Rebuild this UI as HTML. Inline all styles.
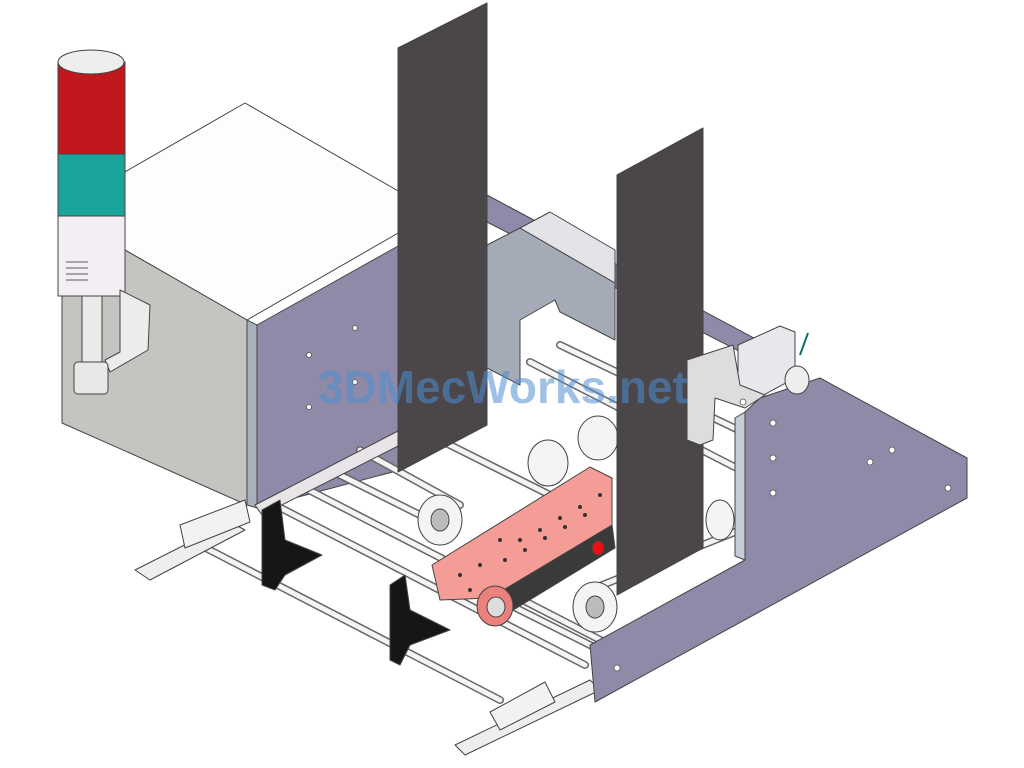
<!DOCTYPE html>
<html><head><meta charset="utf-8"><style>
html,body{margin:0;padding:0;background:#fff;}
svg{display:block;}
</style></head><body>
<svg width="1024" height="768" viewBox="0 0 1024 768" xmlns="http://www.w3.org/2000/svg">
<rect width="1024" height="768" fill="#fff"/>
<g stroke="#444" stroke-width="1" stroke-linejoin="round">
<!-- back strip plate -->
<polygon points="487,195 780,352 780,372 487,222" fill="#8e8aa8"/>
<!-- inner blue-gray plate -->
<polygon points="487,245 520,228 615,283 615,340 560,312 555,300 520,320 520,385 487,368" fill="#a4aab6"/>
<polygon points="520,228 550,212 615,250 615,283" fill="#e4e4e8"/>
<!-- control box -->
<polygon points="123,173 245,103 400,192 400,232 247,320 125,250" fill="#fdfdfd"/>
<polygon points="62,282 125,250 247,320 247,505 62,423" fill="#c6c4c0"/>
<polygon points="247,320 257,325 257,508 247,505" fill="#a9b0bd"/>
<polygon points="257,325 400,245 400,470 257,508" fill="#8e8aa8"/>
<!-- signal tower -->
<rect x="58" y="62" width="67" height="92" fill="#c0181c"/>
<ellipse cx="91" cy="62" rx="33" ry="12" fill="#eee"/>
<rect x="58" y="154" width="67" height="62" fill="#1aa59c"/>
<rect x="58" y="216" width="67" height="80" fill="#f2eef4"/>
<g stroke="#777" stroke-width="1.2"><line x1="66" y1="262" x2="88" y2="262"/><line x1="66" y1="268" x2="88" y2="268"/><line x1="66" y1="274" x2="88" y2="274"/><line x1="66" y1="280" x2="88" y2="280"/></g>
<rect x="82" y="296" width="20" height="68" fill="#eaeaea"/>
<polygon points="120,290 150,305 148,350 110,372 105,360 120,352" fill="#ececec"/>
<rect x="74" y="362" width="34" height="32" rx="4" fill="#e8e8e8"/>
<!-- rods -->
<g stroke="#666" stroke-width="8" stroke-linecap="round" fill="none">
<line x1="200" y1="545" x2="500" y2="700"/>
<line x1="275" y1="505" x2="585" y2="665"/>
<line x1="305" y1="488" x2="610" y2="645"/>
<line x1="330" y1="470" x2="430" y2="520"/>
<line x1="360" y1="450" x2="460" y2="505"/>
<line x1="410" y1="425" x2="560" y2="500"/>
<line x1="500" y1="600" x2="620" y2="660"/>
<line x1="590" y1="590" x2="740" y2="530"/>
<line x1="530" y1="362" x2="760" y2="480"/>
<line x1="560" y1="345" x2="770" y2="445"/>
</g>
<g stroke="#f4f4f4" stroke-width="5" stroke-linecap="round" fill="none">
<line x1="200" y1="545" x2="500" y2="700"/>
<line x1="275" y1="505" x2="585" y2="665"/>
<line x1="305" y1="488" x2="610" y2="645"/>
<line x1="330" y1="470" x2="430" y2="520"/>
<line x1="360" y1="450" x2="460" y2="505"/>
<line x1="410" y1="425" x2="560" y2="500"/>
<line x1="500" y1="600" x2="620" y2="660"/>
<line x1="590" y1="590" x2="740" y2="530"/>
<line x1="530" y1="362" x2="760" y2="480"/>
<line x1="560" y1="345" x2="770" y2="445"/>
</g>
<!-- rails -->
<polygon points="255,505 400,430 410,440 262,515" fill="#e8e4e8"/>
<polygon points="135,570 230,522 245,530 150,580" fill="#eee"/>
<polygon points="180,525 245,500 250,522 185,548" fill="#f2f2f2"/>
<polygon points="455,745 590,680 600,690 465,755" fill="#eee"/>
<polygon points="490,712 545,682 555,702 500,730" fill="#f2f2f2"/>
<!-- black brackets -->
<polygon points="262,510 280,500 285,540 322,555 285,575 275,590 262,585" fill="#161616"/>
<polygon points="390,585 405,575 410,610 450,630 410,645 400,665 390,660" fill="#161616"/>
<!-- rollers -->
<ellipse cx="440" cy="520" rx="22" ry="25" fill="#f4f4f6"/>
<ellipse cx="440" cy="520" rx="9" ry="11" fill="#bbb"/>
<ellipse cx="548" cy="463" rx="20" ry="23" fill="#f4f4f6"/>
<ellipse cx="598" cy="438" rx="20" ry="22" fill="#f4f4f6"/>
<ellipse cx="595" cy="607" rx="22" ry="25" fill="#f4f4f6"/>
<ellipse cx="595" cy="607" rx="9" ry="11" fill="#bbb"/>
<ellipse cx="720" cy="520" rx="14" ry="20" fill="#f4f4f6"/>
<!-- red belt -->
<polygon points="490,598 612,525 615,548 505,615" fill="#3a3a3a"/>
<polygon points="432,565 590,467 612,478 612,525 490,598 440,600" fill="#f49c96"/>
<ellipse cx="495" cy="606" rx="18" ry="20" fill="#ec807a"/>
<ellipse cx="496" cy="607" rx="9" ry="10" fill="#ddd"/>
<ellipse cx="598" cy="548" rx="6" ry="7" fill="#ee1010"/>
<!-- right side plate -->
<polygon points="590,645 745,560 745,412 760,398 820,378 967,458 967,498 595,702" fill="#8e8aa8"/>
<polygon points="745,412 745,560 735,556 735,418" fill="#c8ccd6"/>
<polygon points="738,345 780,326 795,332 795,378 745,405 738,400" fill="#e8e8ec"/>
<ellipse cx="797" cy="380" rx="12" ry="14" fill="#eee"/>
<line x1="800" y1="355" x2="808" y2="333" stroke="#0a7070" stroke-width="2"/>
<!-- dark panels -->
<polygon points="398,48 487,3 487,425 398,472" fill="#4a4649"/>
<polygon points="617,175 703,128 703,548 617,595" fill="#4a4649"/>
<polygon points="687,360 733,345 740,385 765,395 745,408 715,398 713,440 700,445 687,440" fill="#ddd"/>
</g>
<g fill="#fff" stroke="#555" stroke-width="0.8">
<circle cx="355" cy="328" r="2.5"/><circle cx="309" cy="355" r="2.5"/><circle cx="355" cy="382" r="2.5"/><circle cx="309" cy="407" r="2.5"/>
<circle cx="773" cy="423" r="3"/><circle cx="773" cy="458" r="3"/><circle cx="773" cy="493" r="3"/>
<circle cx="870" cy="462" r="3"/><circle cx="892" cy="450" r="3"/><circle cx="948" cy="488" r="3"/>
<circle cx="617" cy="668" r="3"/><circle cx="743" cy="402" r="3"/>
</g>
<g fill="#333">
<circle cx="520" cy="540" r="2"/><circle cx="540" cy="530" r="2"/><circle cx="560" cy="518" r="2"/><circle cx="580" cy="507" r="2"/><circle cx="600" cy="495" r="2"/>
<circle cx="505" cy="560" r="2"/><circle cx="525" cy="550" r="2"/><circle cx="545" cy="538" r="2"/><circle cx="565" cy="527" r="2"/><circle cx="585" cy="515" r="2"/>
<circle cx="460" cy="575" r="2"/><circle cx="480" cy="565" r="2"/><circle cx="500" cy="540" r="2"/><circle cx="470" cy="590" r="2"/>
</g>
<text x="318" y="403" font-family="Liberation Sans, sans-serif" font-size="46" font-weight="bold" fill="#4f8ed0" fill-opacity="0.55">3DMecWorks.net</text>
</svg>
</body></html>
